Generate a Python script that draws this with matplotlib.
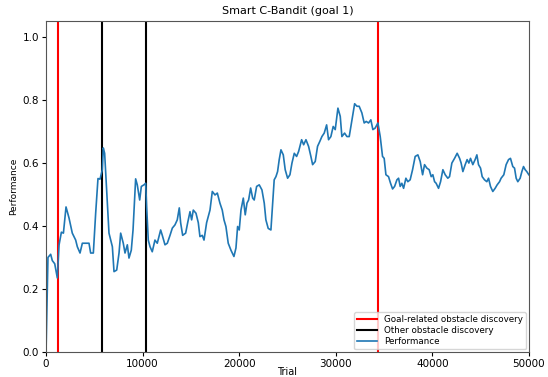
import matplotlib
matplotlib.use("Agg")
import matplotlib.pyplot as plt

goal_obstacles = [1240, 34370]
other_obstacles = [5800, 10350]

trial = [0, 200, 480, 650, 900, 1170, 1350, 1590, 1800, 2070, 2380, 2720, 3070, 3240, 3520, 3760,
         4100, 4450, 4620, 4900, 5140, 5380, 5590, 5830, 5930, 6070, 6280, 6520, 6700, 6870, 7040,
         7320, 7560, 7730, 8000, 8180, 8420, 8590, 8830, 9010, 9280, 9450, 9700, 9870, 10140, 10320,
         10420, 10590, 10770, 11000, 11280, 11520, 11700, 11870, 12040, 12320, 12560, 12840, 13080,
         13350, 13590, 13800, 13940, 14150, 14460, 14670, 14910, 15080, 15250, 15530, 15770, 15940,
         16180, 16360, 16630, 16980, 17220, 17500, 17740, 18010, 18250, 18430, 18630, 18870, 19150,
         19460, 19670, 19840, 20010, 20190, 20430, 20630, 20810, 20980, 21190, 21400, 21560, 21810,
         22080, 22360, 22600, 22770, 23010, 23290, 23470, 23630, 23810, 23980, 24150, 24330, 24570,
         24770, 25020, 25260, 25470, 25710, 25950, 26160, 26470, 26680, 26920, 27190, 27430, 27610,
         27880, 28120, 28360, 28570, 28810, 29060, 29260, 29500, 29740, 29950, 30230, 30470, 30640,
         30920, 31160, 31400, 31680, 31960, 32200, 32430, 32710, 32950, 33160, 33400, 33640, 33850,
         34090, 34370, 34610, 34850, 35020, 35200, 35470, 35680, 35890, 36100, 36340, 36510, 36680,
         36850, 37030, 37270, 37470, 37710, 37960, 38230, 38510, 38750, 39000, 39200, 39440, 39680,
         39890, 40060, 40240, 40400, 40650, 40860, 41100, 41340, 41610, 41790, 42030, 42310, 42580,
         42830, 42990, 43170, 43410, 43610, 43790, 43960, 44200, 44440, 44620, 44790, 45000, 45170,
         45410, 45650, 45830, 46030, 46270, 46510, 46720, 46970, 47130, 47410, 47650, 47900, 48100,
         48340, 48520, 48690, 48860, 49100, 49280, 49450, 49620, 49790, 50000]

performance = [0.0, 0.30, 0.31, 0.29, 0.28, 0.235, 0.34, 0.38, 0.377, 0.46, 0.425, 0.377, 0.355, 0.334,
               0.314, 0.345, 0.345, 0.345, 0.314, 0.314, 0.44, 0.55, 0.548, 0.578, 0.647, 0.63, 0.514,
               0.377, 0.355, 0.334, 0.255, 0.26, 0.314, 0.377, 0.345, 0.314, 0.34, 0.298, 0.323, 0.387,
               0.549, 0.53, 0.482, 0.525, 0.53, 0.535,
               0.46, 0.355, 0.334, 0.318, 0.355, 0.345, 0.366, 0.387, 0.37, 0.34, 0.345, 0.37, 0.393,
               0.403, 0.419, 0.457, 0.41, 0.37, 0.377, 0.41, 0.445, 0.419, 0.45, 0.44, 0.41, 0.366,
               0.37, 0.355, 0.41, 0.45, 0.509, 0.498, 0.504, 0.472, 0.45, 0.419, 0.398, 0.345, 0.323,
               0.303, 0.33, 0.398, 0.387, 0.45, 0.488, 0.435, 0.472, 0.482, 0.52, 0.488, 0.482, 0.525,
               0.53, 0.514, 0.472, 0.419, 0.392, 0.387, 0.472, 0.546, 0.556, 0.572, 0.61, 0.641, 0.625,
               0.578, 0.551, 0.562, 0.599, 0.63, 0.62, 0.636, 0.673, 0.657, 0.673, 0.652, 0.62, 0.594,
               0.604, 0.652, 0.668, 0.683, 0.694, 0.72, 0.673, 0.683, 0.715, 0.705, 0.773, 0.747, 0.683,
               0.694, 0.683, 0.683, 0.736, 0.787, 0.779, 0.779, 0.758, 0.726, 0.731, 0.726, 0.736, 0.705,
               0.71, 0.726, 0.683, 0.62, 0.614, 0.562, 0.556, 0.535, 0.517, 0.525, 0.546, 0.551, 0.525,
               0.535, 0.519, 0.551, 0.54, 0.546, 0.578, 0.62, 0.625, 0.604, 0.562, 0.594, 0.583, 0.578,
               0.556, 0.562, 0.54, 0.535, 0.519, 0.54, 0.578, 0.562, 0.551, 0.556, 0.599, 0.614, 0.63,
               0.614, 0.599, 0.572, 0.594, 0.61, 0.599, 0.614, 0.594, 0.61, 0.625, 0.594, 0.583, 0.556,
               0.546, 0.54, 0.551, 0.525, 0.509, 0.519, 0.53, 0.54, 0.551, 0.562, 0.594, 0.61, 0.614,
               0.588, 0.583, 0.551, 0.54, 0.551, 0.572, 0.588, 0.578, 0.572, 0.562]

fig = plt.figure(figsize=(5.48, 3.77), dpi=100)
ax = fig.add_axes([0.084, 0.066, 0.881, 0.879])

for i, x in enumerate(goal_obstacles):
    ax.axvline(x, color="red", lw=1.5, label="Goal-related obstacle discovery" if i == 0 else None)
for i, x in enumerate(other_obstacles):
    ax.axvline(x, color="black", lw=1.5, label="Other obstacle discovery" if i == 0 else None)
ax.plot(trial, performance, color="#1f77b4", lw=1.2, label="Performance")

ax.set_xlim(0, 50000)
ax.set_ylim(0, 1.05)
ax.set_xticks([0, 10000, 20000, 30000, 40000, 50000])
ax.set_yticks([0.0, 0.2, 0.4, 0.6, 0.8, 1.0])
ax.tick_params(labelsize=7.5, length=3, pad=2)
for s in ax.spines.values():
    s.set_color("#555555")
ax.set_title("Smart C-Bandit (goal 1)", fontsize=8, pad=5)
ax.set_xlabel("Trial", fontsize=7)
ax.xaxis.set_label_coords(0.5, -0.045)
ax.set_ylabel("Performance", fontsize=6.5, labelpad=3)
ax.legend(loc="lower right", fontsize=6.3, handlelength=2.3, borderpad=0.35, labelspacing=0.25,
          borderaxespad=0.3)

fig.savefig("out.png", dpi=100)
